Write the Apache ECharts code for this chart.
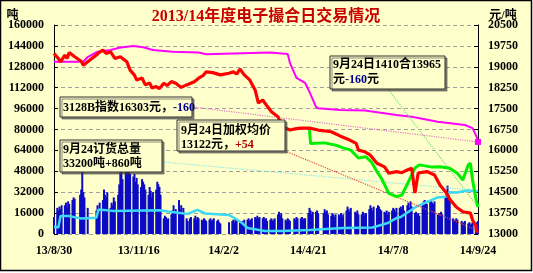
<!DOCTYPE html>
<html><head><meta charset="utf-8">
<script src="https://cdn.jsdelivr.net/npm/echarts/dist/echarts.min.js"></script>
<style>html,body{margin:0;padding:0;background:#fff;}#c{width:533px;height:273px;}</style>
</head><body><div id="c"></div>
<script>
// ---------- data ----------
const chartTitle = '2013/14年度电子撮合日交易情况';
const leftUnit = '吨', rightUnit = '元/吨';
const holidays = ['13/9/19','13/9/20','13/10/1','13/10/2','13/10/3','13/10/4','13/10/7','14/1/1','14/1/31',
  '14/2/3','14/2/4','14/2/5','14/2/6','14/4/7','14/5/1','14/5/2','14/6/2','14/9/8'];

// daily volume (t), grouped by week (Monday date), trading days only
const volumeWeeks = [
 ['13/8/26',[13000]],
 ['13/9/2',[20000,18000,21000,19000,22000]],
 ['13/9/9',[22000,24000,20000,25000,23000]],
 ['13/9/16',[26000,28000,27000]],
 ['13/9/23',[30000,34000,50000,32000,28000]],
 ['13/9/30',[20000]],
 ['13/10/7',[18000,22000,20000,24000]],
 ['13/10/14',[26000,34000,30000,28000,32000]],
 ['13/10/21',[20000,24000,22000,28000,25000]],
 ['13/10/28',[30000,38000,48000,56000,42000]],
 ['13/11/4',[50000,58000,62000,54000,46000]],
 ['13/11/11',[44000,46000,40000,43000,38000]],
 ['13/11/18',[36000,42000,40000,38000,34000]],
 ['13/11/25',[30000,36000,33000,28000,32000]],
 ['13/12/2',[34000,40000,38000,36000,30000]],
 ['13/12/9',[12000,14000,13000,11000,12000]],
 ['13/12/16',[15000,18000,22000,17000,19000]],
 ['13/12/23',[26000,18000,22000,16000,20000]],
 ['13/12/30',[12000,10000,12000,13000]],
 ['14/1/6',[12000,14000,11000,13000,12000]],
 ['14/1/13',[11000,10000,12000,11000,10000]],
 ['14/1/20',[11000,12000,10000,11000,12000]],
 ['14/1/27',[10000,11000,9000,8000]],
 ['14/2/3',[9000]],
 ['14/2/10',[10000,11000,9000,12000,10000]],
 ['14/2/17',[9000,8000,10000,9000,11000]],
 ['14/2/24',[11000,12000,10000,11000,12000]],
 ['14/3/3',[13000,12000,14000,12000,13000]],
 ['14/3/10',[12000,13000,11000,12000,10000]],
 ['14/3/17',[11000,12000,10000,11000,12000]],
 ['14/3/24',[15000,17000,14000,16000,12000]],
 ['14/3/31',[11000,10000,12000,11000,10000]],
 ['14/4/7',[12000,11000,13000,12000]],
 ['14/4/14',[12000,13000,11000,12000,12000]],
 ['14/4/21',[16000,20000,18000,15000,17000]],
 ['14/4/28',[17000,18000,16000]],
 ['14/5/5',[16000,19000,17000,18000,15000]],
 ['14/5/12',[14000,16000,15000,13000,15000]],
 ['14/5/19',[15000,14000,16000,13000,15000]],
 ['14/5/26',[18000,21000,19000,17000,20000]],
 ['14/6/2',[17000,16000,18000,15000]],
 ['14/6/9',[15000,17000,16000,14000,16000]],
 ['14/6/16',[19000,22000,20000,18000,21000]],
 ['14/6/23',[20000,22000,21000,19000,18000]],
 ['14/6/30',[17000,16000,18000,15000,17000]],
 ['14/7/7',[18000,20000,19000,17000,20000]],
 ['14/7/14',[20000,21000,19000,22000,18000]],
 ['14/7/21',[22000,24000,20000,25000,21000]],
 ['14/7/28',[16000,17000,15000,16000,14000]],
 ['14/8/4',[22000,25000,26000,24000,23000]],
 ['14/8/11',[25000,26000,24000,23000,25000]],
 ['14/8/18',[15000,16000,14000,17000,15000]],
 ['14/8/25',[28000,33000,37000,30000,26000]],
 ['14/9/1',[12000,11000,10000,12000,11000]],
 ['14/9/8',[10000,8000,9000,10000]],
 ['14/9/15',[8000,9000,7000,8000,9000]],
 ['14/9/22',[7000,9000,10000]]
];

// open interest (t), left axis
const openInterest = [
 ['13/8/30',5500],['13/9/3',5000],['13/9/5',13800],['13/9/13',13700],['13/9/24',11800],['13/10/8',12500],
 ['13/10/10',18800],['13/10/23',17700],['13/12/5',18100],['13/12/13',17200],['13/12/24',16100],['13/12/31',15300],
 ['14/1/9',18400],['14/1/16',15700],['14/2/7',14500],['14/2/12',12250],['14/2/19',8400],['14/2/24',4600],
 ['14/3/12',2300],['14/3/27',2300],['14/4/22',3060],['14/5/23',4590],['14/6/19',5000],['14/7/3',8400],
 ['14/7/11',12200],['14/7/15',13000],['14/7/28',20300],['14/8/8',24500],['14/8/18',28000],['14/8/25',28500],
 ['14/8/29',32000],['14/9/5',31800],['14/9/15',33500],['14/9/19',32900],['14/9/22',32500],['14/9/23',32340],
 ['14/9/24',33200]
];

// 3128B index (yuan/t), right axis
const cottonIndex = [
 ['13/8/30',19180],['13/9/26',19180],['13/9/30',19350],['13/10/9',19540],['13/10/21',19600],['13/10/30',19690],
 ['13/11/11',19750],['13/11/20',19700],['13/11/29',19600],['13/12/17',19540],['14/1/10',19510],['14/1/17',19450],
 ['14/2/11',19480],['14/3/17',19510],['14/4/2',19460],['14/4/4',19140],['14/4/10',18600],['14/4/18',18420],
 ['14/4/22',18100],['14/4/28',17560],['14/4/30',17510],['14/5/20',17450],['14/6/12',17430],['14/7/11',17270],
 ['14/7/25',17210],['14/8/18',17030],['14/9/12',16910],['14/9/19',16800],['14/9/22',16550],['14/9/23',16463],
 ['14/9/24',16303]
];

// weighted average price (yuan/t), right axis
const avgPrice = [
 ['13/8/30',19480],['13/9/3',19300],['13/9/5',19180],['13/9/9',19420],['13/9/11',19300],['13/9/13',19510],['13/9/18',19360],
 ['13/9/24',19200],['13/9/26',19060],['13/9/30',19180],['13/10/8',19420],['13/10/10',19500],['13/10/14',19600],
 ['13/10/17',19480],['13/10/21',19540],['13/10/25',19300],['13/10/30',19360],['13/11/5',19180],['13/11/8',18880],
 ['13/11/12',18700],['13/11/14',18530],['13/11/19',18600],['13/11/22',18350],['13/11/26',18420],['13/11/28',18240],
 ['13/12/2',18290],['13/12/5',18220],['13/12/9',18410],['13/12/12',18330],['13/12/16',18470],['13/12/20',18410],
 ['13/12/25',18260],['13/12/30',18350],['14/1/6',18460],['14/1/10',18590],['14/1/14',18680],['14/1/17',18820],
 ['14/1/23',18790],['14/1/30',18710],['14/2/7',18770],['14/2/11',18820],['14/2/14',18740],['14/2/17',18920],
 ['14/2/21',18710],['14/2/26',18530],['14/3/3',18170],['14/3/6',17700],['14/3/10',17810],['14/3/14',17590],
 ['14/3/18',17390],['14/3/24',17210],['14/3/28',16850],['14/4/4',16730],['14/4/10',16780],['14/4/14',16800],
 ['14/4/22',16800],['14/4/30',16730],['14/5/12',16670],['14/5/20',16520],['14/5/29',16370],['14/6/4',16250],
 ['14/6/6',16010],['14/6/12',15950],['14/6/17',15830],['14/6/23',15540],['14/6/30',15410],['14/7/4',15180],
 ['14/7/11',15240],['14/7/16',15200],['14/7/21',15300],['14/7/25',15360],['14/7/28',14470],['14/7/31',15190],
 ['14/8/8',15240],['14/8/15',15120],['14/8/20',14760],['14/8/26',14470],['14/8/29',14250],['14/9/4',13970],
 ['14/9/10',13800],['14/9/17',13750],['14/9/19',13500],['14/9/22',13300],['14/9/23',13068],['14/9/24',13122]
];

// contract 1410 (yuan/t), right axis
const contract1410 = [
 ['14/4/22',16730],['14/4/23',16250],['14/5/6',16270],['14/5/16',16190],['14/5/23',16090],['14/5/30',16010],
 ['14/6/6',15730],['14/6/13',15770],['14/6/18',15580],['14/6/23',15240],['14/6/27',15010],['14/7/4',14460],
 ['14/7/11',14340],['14/7/16',14400],['14/7/22',14870],['14/7/28',15370],['14/8/1',15480],['14/8/13',15400],
 ['14/8/20',15410],['14/8/29',15360],['14/9/5',15180],['14/9/10',14940],['14/9/15',15480],['14/9/17',15540],
 ['14/9/19',14940],['14/9/22',14290],['14/9/23',14125],['14/9/24',13965]
];

// ---------- build categories (calendar days) ----------
function lab(d){ return String(d.getFullYear()).slice(2)+'/'+(d.getMonth()+1)+'/'+d.getDate(); }
function parseLab(s){ const p=s.split('/').map(Number); return new Date(2000+p[0], p[1]-1, p[2]); }
const categories = [];
for (let d = new Date(2013,7,30); d <= new Date(2014,8,24); d.setDate(d.getDate()+1)) categories.push(lab(d));
const catIndex = {}; categories.forEach((c,i)=>catIndex[c]=i);
const holidaySet = new Set(holidays);
const barData = categories.map(()=>null);
volumeWeeks.forEach(([mon, vals])=>{
  const d0 = parseLab(mon); let k = 0;
  for (let j=0;j<7 && k<vals.length;j++){
    const d = new Date(d0); d.setDate(d0.getDate()+j);
    const wd = d.getDay(); const l = lab(d);
    if (wd===0 || wd===6 || holidaySet.has(l) || catIndex[l]===undefined) continue;
    barData[catIndex[l]] = vals[k++];
  }
});
const lastIdx = categories.length-1;
const last = a => a[a.length-1][1];

// ---------- styles ----------
const FF = '"Liberation Serif","Noto Sans CJK SC",serif';
const BG = '#ffffcc';
const axisLab = {color:'#000', fontFamily:FF, fontWeight:'bold', fontSize:12, formatter:v=>String(v)};
function leader(fromX, fromY, val, color){
  return {silent:true, symbol:['none','none'], label:{show:false}, animation:false,
    lineStyle:{color:color, type:'dotted', width:1.2},
    emphasis:{disabled:true},
    data:[[{x:fromX, y:fromY},{coord:[lastIdx, val]}]]};
}
function box(x,y,w,h){
  return {type:'rect', silent:true, z:100, shape:{x:x,y:y,width:w,height:h},
    style:{fill:BG, stroke:'#303030', lineWidth:1, shadowColor:'rgba(60,60,60,0.6)', shadowOffsetX:2, shadowOffsetY:2, shadowBlur:0}};
}
function txt(x,y,text,rich){
  return {type:'text', silent:true, z:101, x:x, y:y,
    style:{text:text, rich:rich, fill:'#000', font:'bold 12px '+FF, fontFamily:FF, fontWeight:'bold', fontSize:12,
      align:'left', verticalAlign:'middle', textAlign:'left', textVerticalAlign:'middle'}};
}
const rs = c => ({fill:c, fontFamily:FF, fontWeight:'bold', fontSize:12});

const chart = echarts.init(document.getElementById('c'), null, {renderer:'canvas'});
chart.setOption({
  animation:false,
  backgroundColor:'transparent',
  grid:{left:54, right:55, top:25, bottom:39},
  xAxis:{type:'category', data:categories, boundaryGap:false,
    axisLine:{show:false}, axisTick:{show:false}, splitLine:{show:false},
    axisLabel:{interval:77, margin:11, color:'#000', fontFamily:FF, fontWeight:'bold', fontSize:12}},
  yAxis:[
    {type:'value', min:0, max:160000, interval:16000, position:'left',
      axisLine:{show:true, lineStyle:{color:'#000', width:1}},
      axisTick:{show:true, inside:true, length:4, lineStyle:{color:'#000'}},
      axisLabel:Object.assign({margin:10}, axisLab),
      splitLine:{show:true, lineStyle:{color:'#a0a0a0', type:[4,3], width:1}}},
    {type:'value', min:13000, max:20500, interval:750, position:'right',
      axisLine:{show:true, lineStyle:{color:'#000', width:1}},
      axisTick:{show:true, inside:true, length:4, lineStyle:{color:'#000'}},
      axisLabel:Object.assign({margin:10}, axisLab),
      splitLine:{show:false}}
  ],
  series:[
    {type:'bar', yAxisIndex:0, data:barData, barWidth:2, silent:true,
      itemStyle:{color:'#0c0cc4'}, z:1},
    {type:'line', yAxisIndex:0, data:openInterest, symbol:'none', silent:true, z:3,
      lineStyle:{color:'#3cd8f4', width:2.5}, markLine:leader(163,162,last(openInterest),'#8fe6e0')},
    {type:'line', yAxisIndex:1, data:cottonIndex, symbol:'none', silent:true, z:4,
      lineStyle:{color:'#ff00ff', width:2},
      markLine:leader(193,107,last(cottonIndex),'#e07cc0'),
      markPoint:{silent:true, symbol:'rect', symbolSize:6, label:{show:false}, itemStyle:{color:'#ff00ff'},
        data:[{coord:[lastIdx, last(cottonIndex)]}]}},
    {type:'line', yAxisIndex:1, data:contract1410, symbol:'none', silent:true, z:5,
      lineStyle:{color:'#00ee00', width:3}, markLine:leader(388,89,last(contract1410),'#70e070')},
    {type:'line', yAxisIndex:1, data:avgPrice, symbol:'none', silent:true, z:6,
      lineStyle:{color:'#ff0000', width:3.2}, markLine:leader(285,151,last(avgPrice),'#e04848')}
  ],
  graphic:[
    {type:'rect', silent:true, z:-10, shape:{x:0.5,y:0.5,width:531,height:270},
      style:{fill:BG, stroke:'#000', lineWidth:1.5}},
    {type:'text', silent:true, z:101, x:266, y:17,
      style:{text:chartTitle, fill:'#c80000', font:'bold 16px '+FF, align:'center', verticalAlign:'middle',
        textAlign:'center', textVerticalAlign:'middle',
        shadowColor:'#500000', shadowOffsetX:1, shadowOffsetY:1, shadowBlur:0,
        textShadowColor:'#500000', textShadowOffsetX:1, textShadowOffsetY:1, textShadowBlur:0}},
    {type:'text', silent:true, z:101, x:12.5, y:16,
      style:{text:leftUnit, fill:'#000', font:'bold 12px '+FF, align:'center', verticalAlign:'middle'}},
    {type:'text', silent:true, z:101, x:503, y:16,
      style:{text:rightUnit, fill:'#000', font:'bold 12px '+FF, align:'center', verticalAlign:'middle'}},
    box(60,97,132,20),
    txt(63,107.5,'{a|3128B指数16303元，}{b|-160}', {a:rs('#000'), b:rs('#000090')}),
    box(177,120,108,31),
    txt(181,130.5,'9月24日加权均价'),
    txt(181,145,'{a|13122元，}{b|+54}', {a:rs('#000'), b:rs('#b00000')}),
    box(60,140,102,32),
    txt(63,150,'9月24订货总量'),
    txt(63,164,'33200吨+860吨'),
    box(330,56,115,33),
    txt(333,65,'9月24日1410合13965'),
    txt(333,79.5,'{a|元}{b|-160}{a|元}', {a:rs('#000'), b:rs('#000090')})
  ]
});
</script></body></html>
